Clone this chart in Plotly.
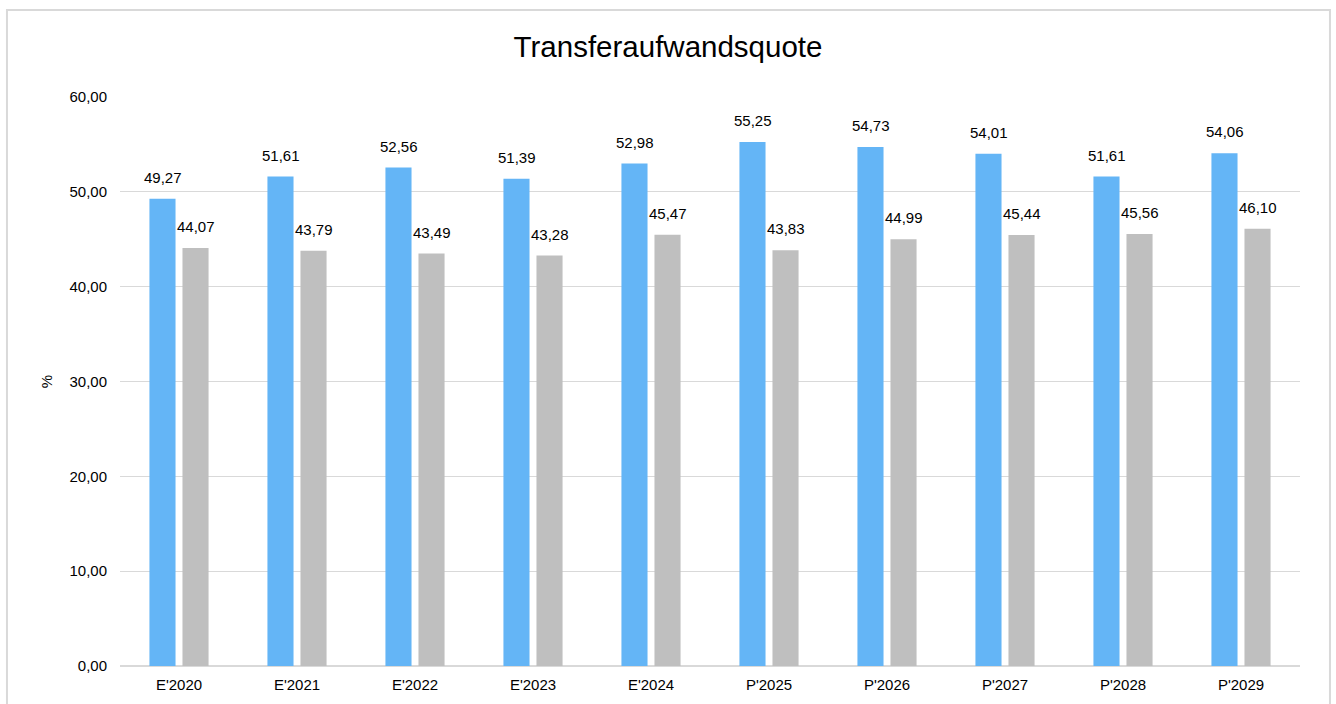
import plotly.graph_objects as go

categories = ["E'2020", "E'2021", "E'2022", "E'2023", "E'2024",
              "P'2025", "P'2026", "P'2027", "P'2028", "P'2029"]
series_a = [49.27, 51.61, 52.56, 51.39, 52.98, 55.25, 54.73, 54.01, 51.61, 54.06]
series_b = [44.07, 43.79, 43.49, 43.28, 45.47, 43.83, 44.99, 45.44, 45.56, 46.10]

BLUE = '#64B5F6'
GREY = '#BFBFBF'


def fmt(v):
    return f"{v:.2f}".replace(".", ",")


fig = go.Figure()
fig.add_trace(go.Bar(x=categories, y=series_a, marker=dict(color=BLUE, line=dict(width=0)),
                     hoverinfo='x+y'))
fig.add_trace(go.Bar(x=categories, y=series_b, marker=dict(color=GREY, line=dict(width=0)),
                     hoverinfo='x+y'))

# value labels, sitting a little above each bar
for c, a, b in zip(categories, series_a, series_b):
    fig.add_annotation(x=c, y=a, text=fmt(a), showarrow=False, xshift=-16.5,
                       yanchor='bottom', yshift=11, font=dict(size=15, color='#000000'))
    fig.add_annotation(x=c, y=b, text=fmt(b), showarrow=False, xshift=16.5,
                       yanchor='bottom', yshift=11, font=dict(size=15, color='#000000'))

# outer chart frame
fig.add_shape(type='rect', xref='paper', yref='paper',
              x0=-0.0958, x1=1.0254, y0=-0.2, y1=1.1529,
              line=dict(color='#D9D9D9', width=2), layer='below')

fig.update_layout(
    width=1336, height=704,
    margin=dict(l=120, r=36, t=97, b=38),
    paper_bgcolor='white', plot_bgcolor='white',
    font=dict(family='Liberation Sans, Arial, sans-serif', size=15, color='#000000'),
    separators=',.',
    title=dict(text='Transferaufwandsquote', x=0.5, xanchor='center',
               y=0.933, yanchor='middle', font=dict(size=29.5, color='#000000')),
    showlegend=False,
    barmode='group', bargap=0.44, bargroupgap=0.21,
    xaxis=dict(showgrid=False, showline=False, ticks='', tickfont=dict(size=15),
               ticklabelstandoff=8),
    yaxis=dict(range=[0, 60], dtick=10, tickformat='.2f', showgrid=True,
               gridcolor='#D9D9D9', gridwidth=1, zeroline=True, zerolinecolor='#D9D9D9',
               zerolinewidth=2, ticks='', tickfont=dict(size=15), ticklabelstandoff=12,
               title=dict(text='%', font=dict(size=15), standoff=13)),
)

fig.write_html("out.html", config={'displayModeBar': False},
               post_script="document.body.style.margin='0';")
